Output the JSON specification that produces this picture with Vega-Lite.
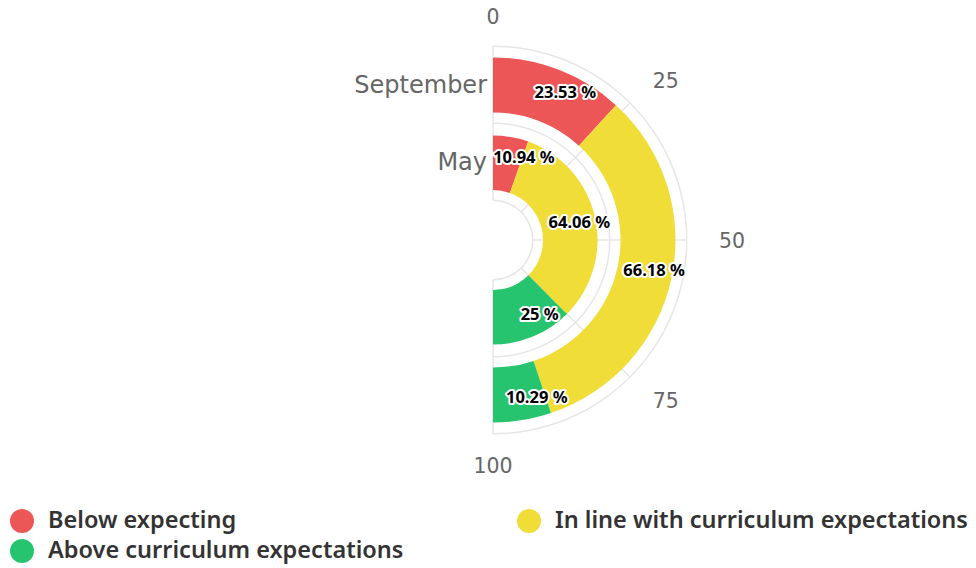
{
  "$schema": "https://vega.github.io/schema/vega-lite/v6.json",
  "width": 966,
  "height": 480,
  "padding": {"left": 10, "top": 0, "right": 0, "bottom": 5},
  "background": "white",
  "resolve": {"scale": {"theta": "independent"}},
  "config": {
    "view": {"stroke": null},
    "legend": {
      "orient": "bottom",
      "columns": 2,
      "symbolType": "circle",
      "symbolSize": 576,
      "symbolStrokeWidth": 0,
      "labelFont": "Noto Sans",
      "labelFontSize": 23.5,
      "labelFontWeight": 600,
      "labelColor": "#333333",
      "labelOffset": 14,
      "labelLimit": 600,
      "columnPadding": 113,
      "rowPadding": 6,
      "offset": 29,
      "title": null
    }
  },
  "datasets": {
    "results": [
      {"month": "September", "category": "Below expecting", "rank": 1, "value": 23.53},
      {"month": "September", "category": "In line with curriculum expectations", "rank": 2, "value": 66.18},
      {"month": "September", "category": "Above curriculum expectations", "rank": 3, "value": 10.29},
      {"month": "May", "category": "Below expecting", "rank": 1, "value": 10.94},
      {"month": "May", "category": "In line with curriculum expectations", "rank": 2, "value": 64.06},
      {"month": "May", "category": "Above curriculum expectations", "rank": 3, "value": 25}
    ],
    "ticks": [
      {"tick": 0}, {"tick": 25}, {"tick": 50}, {"tick": 75}, {"tick": 100}
    ],
    "months": [
      {"month": "September"}, {"month": "May"}
    ]
  },
  "layer": [
    {
      "data": {"name": "ticks"},
      "transform": [{"filter": "datum.tick === 0"}],
      "mark": {"type": "arc", "radius": 194.5, "radius2": 193, "fill": "#e6e6e6"},
      "encoding": {
        "theta": {"datum": 0, "type": "quantitative", "scale": {"domain": [0, 100], "range": [0, 3.14159265]}},
        "theta2": {"datum": 100}
      }
    },
    {
      "data": {"name": "ticks"},
      "transform": [{"filter": "datum.tick === 0"}],
      "mark": {"type": "arc", "radius": 117.5, "radius2": 116, "fill": "#e6e6e6"},
      "encoding": {
        "theta": {"datum": 0, "type": "quantitative", "scale": {"domain": [0, 100], "range": [0, 3.14159265]}},
        "theta2": {"datum": 100}
      }
    },
    {
      "data": {"name": "ticks"},
      "transform": [{"filter": "datum.tick === 0"}],
      "mark": {"type": "arc", "radius": 40.5, "radius2": 39, "fill": "#e6e6e6"},
      "encoding": {
        "theta": {"datum": 0, "type": "quantitative", "scale": {"domain": [0, 100], "range": [0, 3.14159265]}},
        "theta2": {"datum": 100}
      }
    },
    {
      "data": {"name": "ticks"},
      "mark": {"type": "arc", "radius": 194, "radius2": 39.5, "fill": null, "stroke": "#e6e6e6", "strokeWidth": 1.5},
      "encoding": {
        "theta": {"field": "tick", "type": "quantitative", "stack": null, "scale": {"domain": [0, 100], "range": [0, 3.14159265]}},
        "theta2": {"field": "tick"}
      }
    },
    {
      "data": {"name": "ticks"},
      "transform": [{"filter": "datum.tick === 0 || datum.tick === 100"}],
      "mark": {"type": "text", "radius": 224.5, "dy": 2, "align": "center", "baseline": "middle", "font": "DejaVu Sans", "fontSize": 20.5, "fill": "#666666"},
      "encoding": {
        "theta": {"field": "tick", "type": "quantitative", "stack": null, "scale": {"domain": [0, 100], "range": [0, 3.14159265]}},
        "text": {"field": "tick", "type": "quantitative"}
      }
    },
    {
      "data": {"name": "ticks"},
      "transform": [{"filter": "datum.tick > 0 && datum.tick < 100"}],
      "mark": {"type": "text", "radius": 226, "dy": 2, "align": "left", "baseline": "middle", "font": "DejaVu Sans", "fontSize": 20.5, "fill": "#666666"},
      "encoding": {
        "theta": {"field": "tick", "type": "quantitative", "stack": null, "scale": {"domain": [0, 100], "range": [0, 3.14159265]}},
        "text": {"field": "tick", "type": "quantitative"}
      }
    },
    {
      "data": {"name": "months"},
      "transform": [{"filter": "datum.month === 'September'"}],
      "mark": {"type": "text", "radius": 155, "align": "right", "baseline": "middle", "dx": -6, "dy": 1, "font": "DejaVu Sans", "fontSize": 24, "fill": "#666666"},
      "encoding": {
        "theta": {"datum": 0, "type": "quantitative", "scale": {"domain": [0, 100], "range": [0, 3.14159265]}},
        "text": {"field": "month", "type": "nominal"}
      }
    },
    {
      "data": {"name": "months"},
      "transform": [{"filter": "datum.month === 'May'"}],
      "mark": {"type": "text", "radius": 78, "align": "right", "baseline": "middle", "dx": -6, "dy": 1, "font": "DejaVu Sans", "fontSize": 24, "fill": "#666666"},
      "encoding": {
        "theta": {"datum": 0, "type": "quantitative", "scale": {"domain": [0, 100], "range": [0, 3.14159265]}},
        "text": {"field": "month", "type": "nominal"}
      }
    },
    {
      "data": {"name": "results"},
      "transform": [{"filter": "datum.month === 'September'"}],
      "mark": {"type": "arc", "radius": 182.5, "radius2": 127.5},
      "encoding": {
        "theta": {"field": "value", "type": "quantitative", "stack": true, "scale": {"domain": [0, 100], "range": [0, 3.14159265]}},
        "order": {"field": "rank", "type": "quantitative"},
        "color": {
          "field": "category",
          "type": "nominal",
          "scale": {
            "domain": ["Below expecting", "In line with curriculum expectations", "Above curriculum expectations"],
            "range": ["#EC5656", "#F0DD37", "#27C46F"]
          }
        }
      }
    },
    {
      "data": {"name": "results"},
      "transform": [{"filter": "datum.month === 'May'"}],
      "mark": {"type": "arc", "radius": 104.5, "radius2": 50},
      "encoding": {
        "theta": {"field": "value", "type": "quantitative", "stack": true, "scale": {"domain": [0, 100], "range": [0, 3.14159265]}},
        "order": {"field": "rank", "type": "quantitative"},
        "color": {"field": "category", "type": "nominal"}
      }
    },
    {
      "data": {"name": "results"},
      "transform": [{"filter": "datum.month === 'September'"}, {"calculate": "datum.value + ' %'", "as": "label"}],
      "mark": {"type": "text", "radius": 164, "align": "center", "baseline": "middle", "font": "Noto Sans", "fontWeight": "bold", "fontSize": 16.5, "fill": "white", "stroke": "white", "strokeWidth": 4, "strokeJoin": "round"},
      "encoding": {
        "theta": {"field": "value", "type": "quantitative", "stack": true, "scale": {"domain": [0, 100], "range": [0.115, 3.021]}},
        "order": {"field": "rank", "type": "quantitative"},
        "text": {"field": "label", "type": "nominal"}
      }
    },
    {
      "data": {"name": "results"},
      "transform": [{"filter": "datum.month === 'September'"}, {"calculate": "datum.value + ' %'", "as": "label"}],
      "mark": {"type": "text", "radius": 164, "align": "center", "baseline": "middle", "font": "Noto Sans", "fontWeight": "bold", "fontSize": 16.5, "fill": "black"},
      "encoding": {
        "theta": {"field": "value", "type": "quantitative", "stack": true, "scale": {"domain": [0, 100], "range": [0.115, 3.021]}},
        "order": {"field": "rank", "type": "quantitative"},
        "text": {"field": "label", "type": "nominal"}
      }
    },
    {
      "data": {"name": "results"},
      "transform": [{"filter": "datum.month === 'May'"}, {"calculate": "datum.value + ' %'", "as": "label"}],
      "mark": {"type": "text", "radius": 88, "align": "center", "baseline": "middle", "font": "Noto Sans", "fontWeight": "bold", "fontSize": 16.5, "fill": "white", "stroke": "white", "strokeWidth": 4, "strokeJoin": "round"},
      "encoding": {
        "theta": {"field": "value", "type": "quantitative", "stack": true, "scale": {"domain": [0, 100], "range": [0.211, 2.921]}},
        "order": {"field": "rank", "type": "quantitative"},
        "text": {"field": "label", "type": "nominal"}
      }
    },
    {
      "data": {"name": "results"},
      "transform": [{"filter": "datum.month === 'May'"}, {"calculate": "datum.value + ' %'", "as": "label"}],
      "mark": {"type": "text", "radius": 88, "align": "center", "baseline": "middle", "font": "Noto Sans", "fontWeight": "bold", "fontSize": 16.5, "fill": "black"},
      "encoding": {
        "theta": {"field": "value", "type": "quantitative", "stack": true, "scale": {"domain": [0, 100], "range": [0.211, 2.921]}},
        "order": {"field": "rank", "type": "quantitative"},
        "text": {"field": "label", "type": "nominal"}
      }
    }
  ]
}
